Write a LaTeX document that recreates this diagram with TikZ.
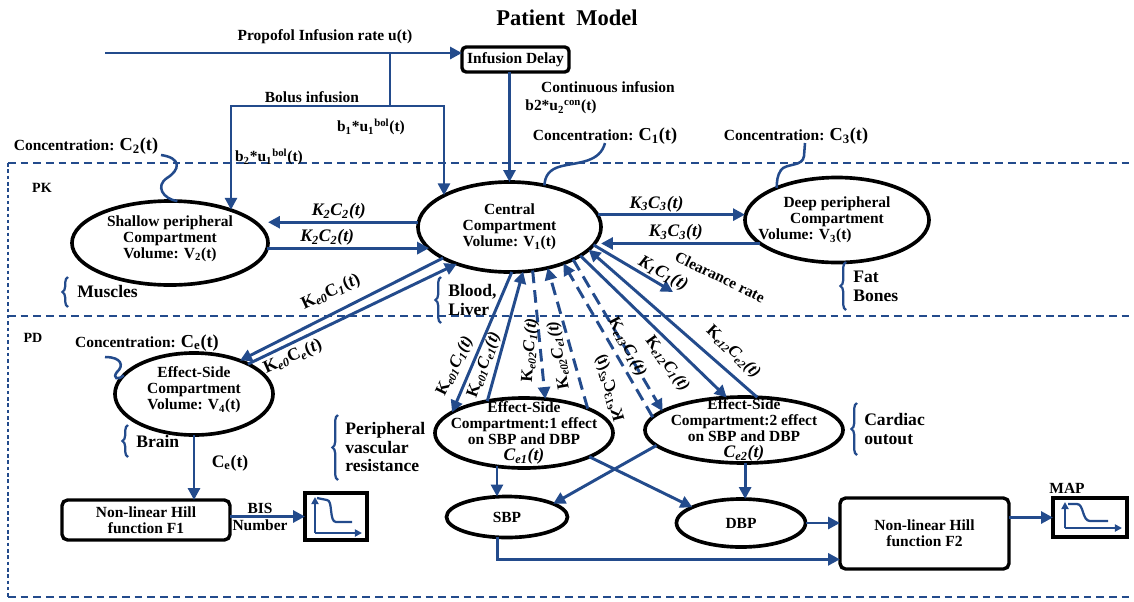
\documentclass[tikz,border=0pt]{standalone}
\usepackage{fontspec}
\setmainfont{Liberation Serif}
\usepackage{xcolor}
\usepackage{tikz}
\usetikzlibrary{arrows.meta, shapes.geometric, decorations.pathreplacing}

\definecolor{flowblue}{RGB}{35,75,140}
\newcommand{\conc}[1]{Concentration: {\fontsize{13}{13}\selectfont C\textsubscript{#1}(t)}}
\newcommand{\kc}[2]{\textit{K\textsubscript{#1}C\textsubscript{#2}(t)}}
\newcommand{\ke}[2]{K\textsubscript{\textit{#1}}\textit{C\textsubscript{#2}(t)}}

\begin{document}
\begin{tikzpicture}[
      x=0.025cm, y=-0.025cm,
      font=\fontsize{11}{11.5}\selectfont\bfseries,
      oval/.style={
        draw,
        ellipse,
        line width=2.6pt,
        inner sep=0pt,
        outer sep=0pt
      },
      otext/.style={align=center, inner sep=0pt},
      hillbox/.style={
        draw,
        rounded corners=4pt,
        line width=2.4pt,
        align=center,
        inner sep=0pt,
        outer sep=0pt
      },
      graphbox/.style={draw, line width=2.4pt, inner sep=0pt, outer sep=0pt},
      flow/.style={
        draw=flowblue,
        line width=2.1pt,
        -{Triangle[length=8.5pt,width=8.5pt]}
      },
      dflow/.style={flow, dash pattern=on 9pt off 5pt},
      wire/.style={draw=flowblue, line width=1.8pt},
      zone/.style={draw=flowblue, line width=1.9pt, dash pattern=on 5.5pt off 3.5pt},
      brc/.style={draw=flowblue, line width=1.6pt, decorate, decoration={brace, amplitude=4pt}},
      klab/.style={font=\fontsize{12.5}{13}\selectfont\bfseries, inner sep=1pt},
      flab/.style={font=\fontsize{12}{13}\selectfont\bfseries, inner sep=0pt},
      big/.style={font=\fontsize{12.5}{13.3}\selectfont\bfseries, align=left, anchor=west, inner sep=0pt}
    ]
    \useasboundingbox (0,0) rectangle (1134,601);

    % frames PK / PD
    \draw[zone] (8,163) -- (1134,163);
    \draw[zone] (8,316) -- (1134,316);
    \draw[zone] (8,597) -- (1134,597);
    \draw[zone, dash pattern=on 2.5pt off 2pt] (8,163) -- (8,597);
    \node[font=\fontsize{10}{12}\selectfont\bfseries] (pk) at (42,188) {PK};
    \node[font=\fontsize{10}{12}\selectfont\bfseries] (pd) at (33,338) {PD};

    \node[font=\fontsize{16}{18}\selectfont\bfseries] (ttl) at (567,18) {Patient\ \ Model};

    % infusion
    \node[hillbox, rounded corners=3pt, minimum width=2.675cm, minimum height=0.625cm] (dly) at (515.5,59.5) {Infusion Delay};
    \node (propl) at (325,37) {Propofol Infusion rate u(t)};
    \node (bolusl) at (312,97) {Bolus infusion};
    \node (b1l) at (371,127) {b\textsubscript{1}*u\textsubscript{1}\textsuperscript{bol}(t)};
    \node (b2l) at (269,157) {b\textsubscript{2}*u\textsubscript{1}\textsuperscript{bol}(t)};
    \node (contl) at (608,87) {Continuous infusion};
    \node (b2cl) at (561,107) {b2*u\textsubscript{2}\textsuperscript{con}(t)};

    % PK compartments
    \node[oval, minimum width=4.575cm, minimum height=2.25cm,
      label={[otext]center:{Central\\Compartment\\Volume: V\textsubscript{1}(t)}}] (cen) at (509.5,227) {};
    \node[oval, minimum width=4.9cm, minimum height=2.1cm,
      label={[otext, yshift=3pt]center:{Shallow peripheral\\Compartment\\Volume: V\textsubscript{2}(t)}}] (shal) at (170,243) {};
    \node[oval, minimum width=4.6cm, minimum height=2.125cm,
      label={[otext]center:{Deep peripheral\\Compartment\\Volume: V\textsubscript{3}(t)\hspace*{1.6cm}}}] (dp) at (837,220) {};

    % PD compartments
    \node[oval, minimum width=3.95cm, minimum height=2.05cm,
      label={[otext, yshift=3pt]center:{Effect-Side\\Compartment\\Volume: V\textsubscript{4}(t)}}] (v4) at (194,394) {};
    \node[oval, minimum width=4.45cm, minimum height=1.75cm,
      label={[otext]center:{Effect-Side\\Compartment:1 effect\\on SBP and DBP\\{\fontsize{12.5}{11.5}\selectfont\itshape C\textsubscript{e1}(t)}}}] (esc1) at (524,433) {};
    \node[oval, minimum width=4.95cm, minimum height=1.65cm,
      label={[otext]center:{Effect-Side\\Compartment:2 effect\\on SBP and DBP\\{\fontsize{12.5}{11.5}\selectfont\itshape C\textsubscript{e2}(t)}}}] (esc2) at (744,430) {};
    \node[oval, minimum width=3.025cm, minimum height=1.025cm] (sbp) at (507,517) {SBP};
    \node[oval, minimum width=3.225cm, minimum height=1.2cm] (dbp) at (741,523) {DBP};

    \node[hillbox, minimum width=4.2cm, minimum height=1cm] (hf1) at (146,520) {Non-linear Hill\\function F1};
    \node[hillbox, minimum width=4.225cm, minimum height=1.775cm] (hf2) at (924.5,533.5) {Non-linear Hill\\function F2};
    \node[graphbox, minimum width=1.55cm, minimum height=1.175cm] (bisg) at (336,516.5) {};
    \node[graphbox, minimum width=1.85cm, minimum height=0.975cm] (mapg) at (1090,517.5) {};
    \node (mapl) at (1067,488) {MAP};

    % concentration labels
    \node (c2l) at (86,146) {\conc{2}};
    \node (c1l) at (605,136) {\conc{1}};
    \node (c3l) at (796,136) {\conc{3}};
    \node (cel) at (147,343) {\conc{e}};
    \coordinate (c2s) at (161,155);
    \coordinate (c1s) at (605,143);
    \coordinate (c3s) at (805,143);
    \coordinate (ces) at (105,357);
    \draw[wire] (c2s) .. controls (182,158) and (180,170) .. (167,178) .. controls (155,186) and (163,199) .. (shal.80);
    \draw[wire] (c1s) .. controls (600,162) and (580,162) .. (562,166) .. controls (549,169) and (545,176) .. (cen.50);
    \draw[wire] (c3s) -- (804,156) .. controls (803,167) and (786,163) .. (781,170) .. controls (777,176) and (777,181) .. (dp.152);
    \draw[wire] (ces) .. controls (122,357) and (124,366) .. (117,372) .. controls (112,378) and (118,381) .. (v4.165);

    % infusion arrows
    \coordinate (uin) at (105,53);
    \coordinate (bj) at (390,53);
    \coordinate (bm) at (390,106);
    \coordinate (bl) at (231,106);
    \coordinate (br) at (444,106);
    \draw[flow] (uin) -- (uin -| dly.west);
    \draw[flow] (bj) -- (bm) -- (bl) -- (bl |- shal.29);
    \draw[flow] (bm) -- (br) -- (br |- cen.154);
    \draw[flow] (cen.north |- dly.south) -- (cen.north);

    % PK exchange
    \draw[flow] (cen.177) -- (cen.177 -| shal.east)
      node[klab, pos=.53, above] (k2a) {\kc{2}{2}};
    \draw[flow] (shal.-3) -- (shal.-3 -| cen.-165)
      node[klab, pos=.37, above] (k2b) {\kc{2}{2}};
    \draw[flow] (cen.8) -- (cen.8 -| dp.west)
      node[klab, pos=.4, above] (k3a) {\kc{3}{3}};
    \draw[flow] (dp.-163) -- (dp.-163 -| cen.east)
      node[klab, pos=.53, above] (k3b) {\kc{3}{3}};
    \coordinate (clr) at (673,292);
    \draw[flow] (cen.-12) -- (clr);
    \node[klab, rotate=-29] (k1) at (663,274) {\kc{1}{1}};
    \node[rotate=-26] (clrl) at (720,277) {Clearance rate};

    % central <-> effect sites
    \draw[flow] (cen.-155) -- (v4.36);
    \draw[flow] (v4.29) -- (cen.-145);
    \node[klab, rotate=25] (ke0a) at (331,292) {K\textsubscript{\textit{e0}}C\textsubscript{\textit{1}}(\textit{t})};
    \node[klab, rotate=24] (ke0b) at (293,357) {K\textsubscript{\textit{e0}}C\textsubscript{\textit{e}}(\textit{t})};

    \draw[flow] (cen.-87) -- (esc1.164);
    \draw[flow] (esc1.139) -- (cen.-73);
    \draw[dflow] (cen.-62) -- (esc1.58);
    \draw[dflow] (esc1.21) -- (cen.-47);
    \draw[dflow] (esc2.172) -- (cen.-34);
    \draw[dflow] (cen.-27) -- (esc2.167);
    \draw[flow] (cen.-22) -- (esc2.118);
    \draw[flow] (esc2.68) -- (cen.-16);
    \node[flab, rotate=64] (f1l) at (455,366) {\ke{e01}{1}};
    \node[flab, rotate=70] (f2l) at (484,365) {\ke{e01}{e1}};
    \node[flab, rotate=86] (f3l) at (530,350) {\ke{e02}{1}};
    \node[flab, rotate=100] (f4l) at (559,355) {\ke{e02}{e1}};
    \node[flab, rotate=105, yscale=-1] (f5l) at (609,388) {\ke{e13}{e2}};
    \node[flab, rotate=-62] (f6l) at (627,347) {\ke{e13}{1}};
    \node[flab, rotate=-54] (f7l) at (667,364) {\ke{e12}{1}};
    \node[flab, rotate=-44] (f8l) at (733,352) {\ke{e12}{e2}};

    % PD outputs
    \draw[flow] (v4.south) -- (v4.south |- hf1.north);
    \node[font=\fontsize{12.5}{13}\selectfont\bfseries] (cetl) at (230,463) {C\textsubscript{e}(t)};
    \draw[flow] (bisg.west -| hf1.east) -- (bisg.west)
      node[pos=.4, above, inner sep=1pt] (bisl) {BIS}
      node[pos=.4, below, inner sep=1pt] (numl) {Number};
    \draw[flow] (esc1.-129) -- (esc1.-129 |- sbp.north);
    \draw[flow] (esc1.-20) -- (dbp.162);
    \draw[flow] (esc2.190) -- (sbp.16);
    \draw[flow] (esc2.-88) -- (esc2.-88 |- dbp.north);
    \draw[flow] (dbp.east) -- (dbp.east -| hf2.west);
    \draw[flow] (sbp.-116) |- (hf2.-163);
    \draw[flow] (mapg.west -| hf2.east) -- (mapg.west);

    % response curves
    \begin{scope}[shift={(bisg.center)}, flowblue, line width=1.6pt]
      \draw[-{Triangle[length=5pt,width=5pt]}] (-21,16.5) -- (-21,-19.5);
      \draw[-{Triangle[length=5pt,width=5pt]}] (-21,16.5) -- (26,16.5);
      \draw (-19,-18.5) -- (-9,-16.5) .. controls (-3,-16.5) and (-7,5.5) .. (0,5.5) -- (16,5.5);
    \end{scope}
    \begin{scope}[shift={(mapg.center)}, flowblue, line width=1.6pt]
      \draw[-{Triangle[length=5pt,width=5pt]}] (-25,10.5) -- (-25,-15.5);
      \draw[-{Triangle[length=5pt,width=5pt]}] (-25,10.5) -- (32,10.5);
      \draw (-22,-13.5) -- (-13,-13.5) .. controls (-6,-13.5) and (-8,3.5) .. (0,3.5) -- (18,3.5);
    \end{scope}

    % tissues
    \draw[brc] (68,307) -- (68,277);
    \node[big] (musl) at (77,292) {Muscles};
    \draw[brc] (441,323) -- (441,277);
    \node[big] (bll) at (448,300) {Blood,\\Liver};
    \draw[brc] (846,310) -- (846,262);
    \node[big] (fbl) at (853,286) {Fat\\Bones};
    \draw[brc] (128,457) -- (128,425);
    \node[big] (brl) at (136,441) {Brain};
    \draw[brc] (338,480) -- (338,415);
    \node[big] (pvl) at (345,447) {Peripheral\\vascular\\resistance};
    \draw[brc] (857,455) -- (857,403);
    \node[big] (col) at (864,429) {Cardiac\\outout};

\end{tikzpicture}
\end{document}
